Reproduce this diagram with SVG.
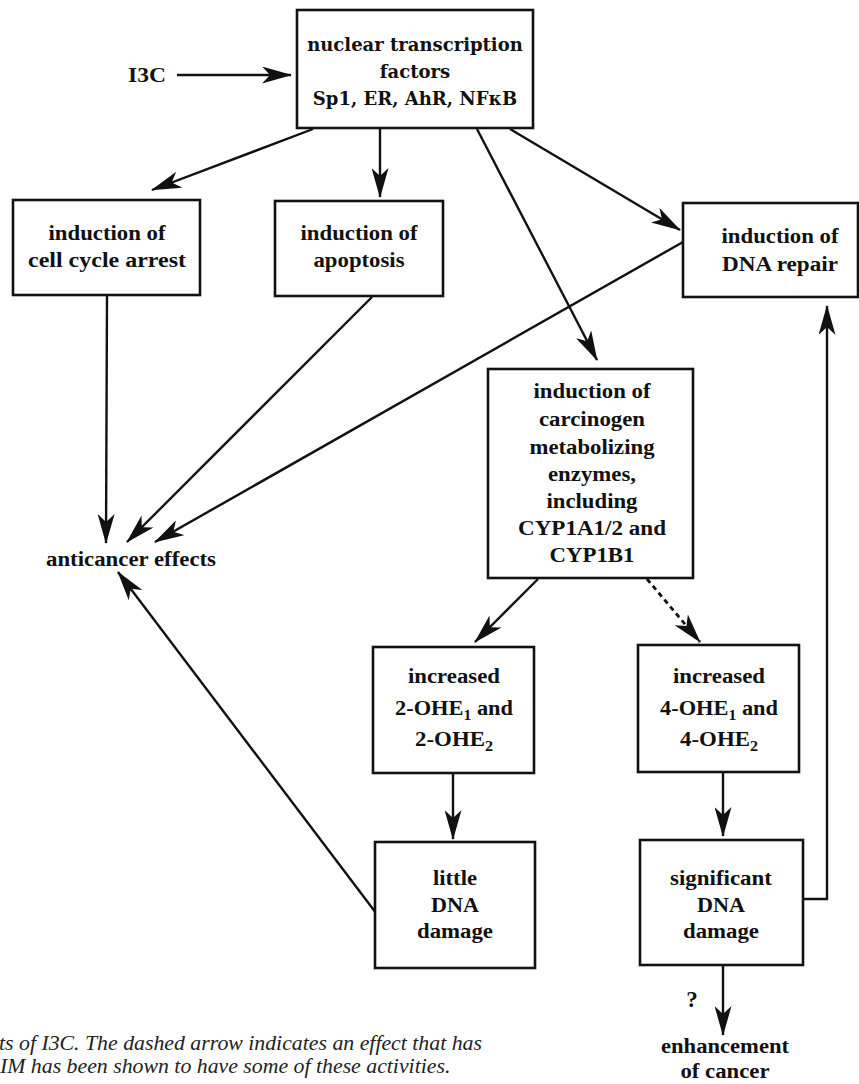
<svg xmlns="http://www.w3.org/2000/svg" width="859" height="1084" viewBox="0 0 859 1084">
<style>
.box{fill:#fff;stroke:#111;stroke-width:2.6}
.t{font-family:"Liberation Serif","Times New Roman",serif;font-weight:bold;font-size:20px;fill:#111;text-anchor:middle}
.tt{font-family:"DejaVu Serif","Liberation Serif",serif;font-weight:bold;font-size:18px;fill:#111;text-anchor:middle}
.cap{font-family:"Liberation Serif","Times New Roman",serif;font-style:italic;font-size:21.8px;fill:#222}
.c{fill:none;stroke:#111;stroke-width:2.4}
.d{fill:none;stroke:#111;stroke-width:2.8;stroke-dasharray:5 4}
.sub{font-size:14px}
</style>
<defs>
<marker id="ah" markerUnits="userSpaceOnUse" markerWidth="30" markerHeight="17" refX="29" refY="8.5" orient="auto">
<path d="M0,0 L30,8.5 L0,17 L8,8.5 z" fill="#111"/>
</marker>
</defs>
<rect width="859" height="1084" fill="#fff"/>

<g id="connectors">
<line class="c" x1="177" y1="75" x2="291" y2="75" marker-end="url(#ah)"/>
<line class="c" x1="313" y1="129" x2="152" y2="190" marker-end="url(#ah)"/>
<line class="c" x1="380" y1="129" x2="380" y2="197" marker-end="url(#ah)"/>
<line class="c" x1="477" y1="129" x2="597" y2="360" marker-end="url(#ah)"/>
<line class="c" x1="510" y1="129" x2="680" y2="230" marker-end="url(#ah)"/>
<line class="c" x1="107" y1="296" x2="106" y2="543" marker-end="url(#ah)"/>
<line class="c" x1="372" y1="297" x2="127" y2="542" marker-end="url(#ah)"/>
<line class="c" x1="683" y1="242" x2="155" y2="542" marker-end="url(#ah)"/>
<line class="c" x1="538" y1="579" x2="475" y2="642" marker-end="url(#ah)"/>
<line class="d" x1="647" y1="579" x2="700" y2="642" marker-end="url(#ah)"/>
<line class="c" x1="453" y1="774" x2="453" y2="839" marker-end="url(#ah)"/>
<line class="c" x1="723" y1="773" x2="723" y2="836" marker-end="url(#ah)"/>
<line class="c" x1="376" y1="913" x2="118" y2="572" marker-end="url(#ah)"/>
<path class="c" d="M803,899 H827 V306" marker-end="url(#ah)"/>
<line class="c" x1="723" y1="966" x2="723" y2="1035" marker-end="url(#ah)"/>
</g>

<g id="i3c"><text class="t" x="147" y="82" textLength="38" lengthAdjust="spacingAndGlyphs">I3C</text></g>

<g id="transcription-factors">
<rect class="box" x="297" y="10" width="236" height="118"/>
<text class="tt" x="415" y="51">nuclear transcription</text>
<text class="tt" x="415" y="78">factors</text>
<text class="tt" x="415" y="105">Sp1, ER, AhR, NFκB</text>
</g>

<g id="cell-cycle">
<rect class="box" x="13" y="200" width="187" height="95"/>
<text class="t" x="107" y="240" textLength="117" lengthAdjust="spacingAndGlyphs">induction of</text>
<text class="t" x="107" y="267" textLength="158" lengthAdjust="spacingAndGlyphs">cell cycle arrest</text>
</g>

<g id="apoptosis">
<rect class="box" x="275" y="201" width="168" height="95"/>
<text class="t" x="359" y="240" textLength="117" lengthAdjust="spacingAndGlyphs">induction of</text>
<text class="t" x="359" y="267" textLength="91" lengthAdjust="spacingAndGlyphs">apoptosis</text>
</g>

<g id="dna-repair">
<rect class="box" x="683" y="203" width="175" height="94"/>
<text class="t" x="780" y="243" textLength="117" lengthAdjust="spacingAndGlyphs">induction of</text>
<text class="t" x="780" y="271" textLength="116" lengthAdjust="spacingAndGlyphs">DNA repair</text>
</g>

<g id="carcinogen-enzymes">
<rect class="box" x="488" y="369" width="205" height="209"/>
<text class="t" x="592" y="398" textLength="117" lengthAdjust="spacingAndGlyphs">induction of</text>
<text class="t" x="592" y="426" textLength="106" lengthAdjust="spacingAndGlyphs">carcinogen</text>
<text class="t" x="592" y="454" textLength="125" lengthAdjust="spacingAndGlyphs">metabolizing</text>
<text class="t" x="592" y="481" textLength="88" lengthAdjust="spacingAndGlyphs">enzymes,</text>
<text class="t" x="592" y="508" textLength="91" lengthAdjust="spacingAndGlyphs">including</text>
<text class="t" x="592" y="535" textLength="148" lengthAdjust="spacingAndGlyphs">CYP1A1/2 and</text>
<text class="t" x="592" y="562" textLength="85" lengthAdjust="spacingAndGlyphs">CYP1B1</text>
</g>

<g id="anticancer"><text class="t" x="131" y="566" textLength="170" lengthAdjust="spacingAndGlyphs">anticancer effects</text></g>

<g id="two-ohe">
<rect class="box" x="373" y="647" width="161" height="126"/>
<text class="t" x="454" y="683" textLength="92" lengthAdjust="spacingAndGlyphs">increased</text>
<text class="t" x="454" y="715" textLength="118" lengthAdjust="spacingAndGlyphs">2-OHE<tspan class="sub" dy="5">1</tspan><tspan dy="-5"> and</tspan></text>
<text class="t" x="454" y="746" textLength="78" lengthAdjust="spacingAndGlyphs">2-OHE<tspan class="sub" dy="5">2</tspan></text>
</g>

<g id="four-ohe">
<rect class="box" x="638" y="645" width="161" height="127"/>
<text class="t" x="719" y="683" textLength="92" lengthAdjust="spacingAndGlyphs">increased</text>
<text class="t" x="719" y="715" textLength="118" lengthAdjust="spacingAndGlyphs">4-OHE<tspan class="sub" dy="5">1</tspan><tspan dy="-5"> and</tspan></text>
<text class="t" x="719" y="746" textLength="78" lengthAdjust="spacingAndGlyphs">4-OHE<tspan class="sub" dy="5">2</tspan></text>
</g>

<g id="little-damage">
<rect class="box" x="375" y="842" width="160" height="126"/>
<text class="t" x="455" y="885" textLength="44" lengthAdjust="spacingAndGlyphs">little</text>
<text class="t" x="455" y="912" textLength="48" lengthAdjust="spacingAndGlyphs">DNA</text>
<text class="t" x="455" y="938" textLength="76" lengthAdjust="spacingAndGlyphs">damage</text>
</g>

<g id="significant-damage">
<rect class="box" x="640" y="840" width="163" height="125"/>
<text class="t" x="721" y="885" textLength="102" lengthAdjust="spacingAndGlyphs">significant</text>
<text class="t" x="721" y="912" textLength="48" lengthAdjust="spacingAndGlyphs">DNA</text>
<text class="t" x="721" y="938" textLength="76" lengthAdjust="spacingAndGlyphs">damage</text>
</g>

<g id="question"><text class="t" x="692" y="1007" style="font-size:23px">?</text></g>

<g id="enhancement">
<text class="t" x="725" y="1053" textLength="128" lengthAdjust="spacingAndGlyphs">enhancement</text>
<text class="t" x="725" y="1078" textLength="89" lengthAdjust="spacingAndGlyphs">of cancer</text>
</g>

<g id="caption">
<text class="cap" x="-1" y="1050">ts of I3C. The dashed arrow indicates an effect that has</text>
<text class="cap" x="0" y="1073">IM has been shown to have some of these activities.</text>
</g>
</svg>
